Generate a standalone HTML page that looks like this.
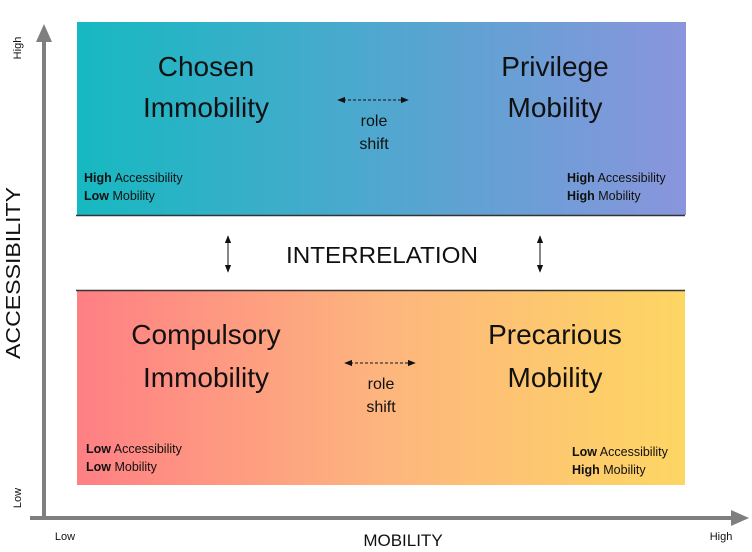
<!DOCTYPE html>
<html><head><style>body{margin:0;background:#fff}svg{display:block}text{font-family:"Liberation Sans",sans-serif;fill:#111}</style></head><body>
<svg width="752" height="552" viewBox="0 0 752 552" xmlns="http://www.w3.org/2000/svg">
<defs>
<linearGradient id="t" x1="0" x2="1"><stop offset="0" stop-color="#16b9c1"/><stop offset="1" stop-color="#8a95dd"/></linearGradient>
<linearGradient id="b" x1="0" x2="1"><stop offset="0" stop-color="#fe7f84"/><stop offset=".5" stop-color="#fdb57e"/><stop offset="1" stop-color="#fdd663"/></linearGradient>
<marker id="a" viewBox="0 0 10 10" refX="9" refY="5" markerWidth="8" markerHeight="8" orient="auto-start-reverse"><path d="M0,1 L10,5 L0,9z" fill="#111"/></marker>
</defs>
<rect x="77" y="22" width="609" height="193" fill="url(#t)"/>
<line x1="76" y1="215.5" x2="685" y2="215.5" stroke="#333" stroke-width="1.5"/>
<rect x="77" y="290" width="608" height="195" fill="url(#b)"/>
<line x1="76" y1="290.5" x2="685" y2="290.5" stroke="#333" stroke-width="1.5"/>
<line x1="44" y1="40" x2="44" y2="518" stroke="#7f7f7f" stroke-width="4"/>
<path d="M36,42 L44,24 L52,42z" fill="#7f7f7f"/>
<line x1="30" y1="518" x2="733" y2="518" stroke="#7f7f7f" stroke-width="4"/>
<path d="M731,510 L749,518 L731,526z" fill="#7f7f7f"/>
<text x="403" y="546" font-size="17" text-anchor="middle" fill="#333">MOBILITY</text>
<text x="65" y="540" font-size="11" text-anchor="middle" fill="#333">Low</text>
<text x="721" y="540" font-size="11" text-anchor="middle" fill="#333">High</text>
<text transform="translate(20,273) rotate(-90)" font-size="20" text-anchor="middle" fill="#333" textLength="172" lengthAdjust="spacingAndGlyphs">ACCESSIBILITY</text>
<text transform="translate(21,48) rotate(-90)" font-size="11" text-anchor="middle" fill="#333">High</text>
<text transform="translate(21,498) rotate(-90)" font-size="11" text-anchor="middle" fill="#333">Low</text>
<g font-size="28" text-anchor="middle">
<text x="206" y="76">Chosen</text><text x="206" y="117">Immobility</text>
<text x="555" y="76">Privilege</text><text x="555" y="117">Mobility</text>
<text x="206" y="344">Compulsory</text><text x="206" y="387">Immobility</text>
<text x="555" y="344">Precarious</text><text x="555" y="387">Mobility</text>
</g>
<g font-size="16" text-anchor="middle" fill="#222">
<text x="374" y="126">role</text><text x="374" y="149">shift</text>
<text x="381" y="389">role</text><text x="381" y="412">shift</text>
</g>
<line x1="338" y1="100" x2="408" y2="100" stroke="#111" stroke-dasharray="3,2" marker-start="url(#a)" marker-end="url(#a)"/>
<line x1="345" y1="363" x2="415" y2="363" stroke="#111" stroke-dasharray="3,2" marker-start="url(#a)" marker-end="url(#a)"/>
<line x1="228" y1="236" x2="228" y2="272" stroke="#111" marker-start="url(#a)" marker-end="url(#a)"/>
<line x1="540" y1="236" x2="540" y2="272" stroke="#111" marker-start="url(#a)" marker-end="url(#a)"/>
<text x="382" y="263" font-size="23" text-anchor="middle" fill="#666" textLength="192" lengthAdjust="spacingAndGlyphs">INTERRELATION</text>
<g font-size="12.5" fill="#222">
<text x="84" y="182"><tspan font-weight="bold">High</tspan> Accessibility</text><text x="84" y="200"><tspan font-weight="bold">Low</tspan> Mobility</text>
<text x="567" y="182"><tspan font-weight="bold">High</tspan> Accessibility</text><text x="567" y="200"><tspan font-weight="bold">High</tspan> Mobility</text>
<text x="86" y="453"><tspan font-weight="bold">Low</tspan> Accessibility</text><text x="86" y="471"><tspan font-weight="bold">Low</tspan> Mobility</text>
<text x="572" y="456"><tspan font-weight="bold">Low</tspan> Accessibility</text><text x="572" y="474"><tspan font-weight="bold">High</tspan> Mobility</text>
</g>
</svg>
</body></html>
